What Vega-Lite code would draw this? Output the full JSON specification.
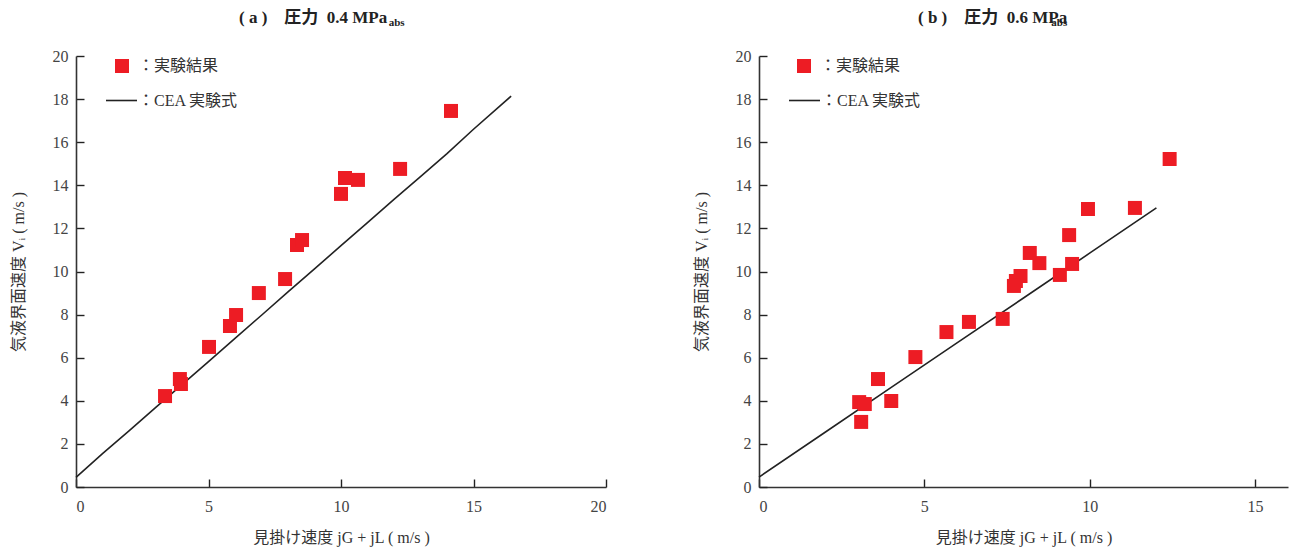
{
  "$schema": "https://vega.github.io/schema/vega-lite/v6.json",
  "background": "white",
  "padding": {"left": 10, "top": 8, "right": 5, "bottom": 5},
  "datasets": {
    "ptsA": [
      {"x": 3.36, "y": 4.22, "series": "：実験結果"},
      {"x": 3.92, "y": 5.01, "series": "：実験結果"},
      {"x": 3.96, "y": 4.78, "series": "：実験結果"},
      {"x": 5.02, "y": 6.5, "series": "：実験結果"},
      {"x": 5.81, "y": 7.47, "series": "：実験結果"},
      {"x": 6.04, "y": 7.98, "series": "：実験結果"},
      {"x": 6.9, "y": 9.0, "series": "：実験結果"},
      {"x": 7.89, "y": 9.65, "series": "：実験結果"},
      {"x": 8.34, "y": 11.23, "series": "：実験結果"},
      {"x": 8.53, "y": 11.46, "series": "：実験結果"},
      {"x": 10.0, "y": 13.6, "series": "：実験結果"},
      {"x": 10.15, "y": 14.34, "series": "：実験結果"},
      {"x": 10.64, "y": 14.25, "series": "：実験結果"},
      {"x": 12.23, "y": 14.76, "series": "：実験結果"},
      {"x": 14.15, "y": 17.45, "series": "：実験結果"}
    ],
    "lineA": [
      {"x": 0, "y": 0.45, "series": "：CEA 実験式"},
      {"x": 1, "y": 1.55, "series": "：CEA 実験式"},
      {"x": 2, "y": 2.6, "series": "：CEA 実験式"},
      {"x": 3, "y": 3.68, "series": "：CEA 実験式"},
      {"x": 4, "y": 4.75, "series": "：CEA 実験式"},
      {"x": 5, "y": 5.82, "series": "：CEA 実験式"},
      {"x": 6, "y": 6.9, "series": "：CEA 実験式"},
      {"x": 7, "y": 7.97, "series": "：CEA 実験式"},
      {"x": 8, "y": 9.05, "series": "：CEA 実験式"},
      {"x": 9, "y": 10.12, "series": "：CEA 実験式"},
      {"x": 10, "y": 11.2, "series": "：CEA 実験式"},
      {"x": 11, "y": 12.27, "series": "：CEA 実験式"},
      {"x": 12, "y": 13.35, "series": "：CEA 実験式"},
      {"x": 13, "y": 14.4, "series": "：CEA 実験式"},
      {"x": 14, "y": 15.47, "series": "：CEA 実験式"},
      {"x": 15, "y": 16.6, "series": "：CEA 実験式"},
      {"x": 16.42, "y": 18.14, "series": "：CEA 実験式"}
    ],
    "ptsB": [
      {"x": 12.42, "y": 15.22, "series": "：実験結果"},
      {"x": 9.95, "y": 12.9, "series": "：実験結果"},
      {"x": 11.37, "y": 12.95, "series": "：実験結果"},
      {"x": 9.38, "y": 11.69, "series": "：実験結果"},
      {"x": 8.19, "y": 10.86, "series": "：実験結果"},
      {"x": 8.48, "y": 10.39, "series": "：実験結果"},
      {"x": 9.47, "y": 10.35, "series": "：実験結果"},
      {"x": 9.1, "y": 9.84, "series": "：実験結果"},
      {"x": 7.91, "y": 9.79, "series": "：実験結果"},
      {"x": 7.77, "y": 9.56, "series": "：実験結果"},
      {"x": 7.71, "y": 9.33, "series": "：実験結果"},
      {"x": 7.37, "y": 7.8, "series": "：実験結果"},
      {"x": 6.35, "y": 7.66, "series": "：実験結果"},
      {"x": 5.67, "y": 7.19, "series": "：実験結果"},
      {"x": 4.73, "y": 6.03, "series": "：実験結果"},
      {"x": 3.6, "y": 5.01, "series": "：実験結果"},
      {"x": 4.0, "y": 3.99, "series": "：実験結果"},
      {"x": 3.03, "y": 3.94, "series": "：実験結果"},
      {"x": 3.2, "y": 3.85, "series": "：実験結果"},
      {"x": 3.09, "y": 3.02, "series": "：実験結果"}
    ],
    "lineB": [
      {"x": 0, "y": 0.46, "series": "：CEA 実験式"},
      {"x": 2, "y": 2.54, "series": "：CEA 実験式"},
      {"x": 4, "y": 4.62, "series": "：CEA 実験式"},
      {"x": 6, "y": 6.7, "series": "：CEA 実験式"},
      {"x": 8, "y": 8.77, "series": "：CEA 実験式"},
      {"x": 10, "y": 10.85, "series": "：CEA 実験式"},
      {"x": 12.02, "y": 12.95, "series": "：CEA 実験式"}
    ],
    "sub": [{"t": "abs"}]
  },
  "config": {
    "view": {"stroke": null},
    "font": "Liberation Serif, Noto Sans CJK JP",
    "axis": {
      "grid": false,
      "ticks": true,
      "tickSize": -8,
      "tickColor": "#222222",
      "tickWidth": 1.4,
      "tickOpacity": 1,
      "domainColor": "#333333",
      "domainWidth": 1.6,
      "labelFont": "Liberation Serif",
      "labelFontSize": 16,
      "labelColor": "#444444",
      "titleFont": "Liberation Serif, Noto Sans CJK JP",
      "titleFontSize": 16,
      "titleFontWeight": "normal",
      "titleColor": "#333333"
    },
    "axisX": {"labelPadding": 19, "titlePadding": 15},
    "axisY": {"labelPadding": 16, "titlePadding": 26},
    "title": {
      "font": "Liberation Serif, Noto Sans CJK JP",
      "fontSize": 17,
      "fontWeight": "bold",
      "anchor": "start",
      "frame": "group",
      "color": "#222222",
      "offset": -10
    },
    "legend": {
      "title": null,
      "orient": "none",
      "padding": 0,
      "labelFont": "Liberation Serif, Noto Sans CJK JP",
      "labelFontSize": 16,
      "labelColor": "#333333"
    }
  },
  "spacing": 86,
  "resolve": {
    "scale": {"shape": "independent", "color": "independent", "x": "independent", "y": "independent"},
    "legend": {"shape": "independent", "color": "independent"}
  },
  "hconcat": [
    {
      "width": 530,
      "height": 431,
      "title": {"text": "( a )　圧力\u00a0 0.4 MPa", "dx": 163},
      "layer": [
        {
          "data": {"name": "lineA"},
          "mark": {"type": "line", "strokeWidth": 1.6},
          "encoding": {
            "x": {"field": "x", "type": "quantitative", "scale": {"domain": [0, 20]}, "axis": {"values": [0, 5, 10, 15, 20], "title": "見掛け速度 jG + jL ( m/s )"}},
            "y": {"field": "y", "type": "quantitative", "scale": {"domain": [0, 20]}, "axis": {"values": [0, 2, 4, 6, 8, 10, 12, 14, 16, 18, 20], "title": "気液界面速度  Vᵢ ( m/s )"}},
            "color": {
              "field": "series", "type": "nominal",
              "scale": {"domain": ["：CEA 実験式"], "range": ["#222222"]},
              "legend": {"legendX": 29, "legendY": 28, "symbolSize": 961, "symbolStrokeWidth": 1.6, "labelOffset": 0}
            }
          }
        },
        {
          "data": {"name": "ptsA"},
          "mark": {"type": "point", "filled": true, "size": 196, "opacity": 1, "color": "#ed1c24"},
          "encoding": {
            "x": {"field": "x", "type": "quantitative"},
            "y": {"field": "y", "type": "quantitative"},
            "shape": {
              "field": "series", "type": "nominal",
              "scale": {"domain": ["：実験結果"], "range": ["square"]},
              "legend": {"legendX": 38, "legendY": 2, "symbolSize": 196, "symbolFillColor": "#ed1c24", "symbolStrokeColor": "#ed1c24", "symbolOpacity": 1, "labelOffset": 8}
            }
          }
        },
        {
          "data": {"name": "sub"},
          "mark": {"type": "text", "align": "left", "baseline": "top", "fontSize": 11, "fontWeight": "bold", "font": "Liberation Serif", "color": "#222222"},
          "encoding": {
            "x": {"datum": 11.8},
            "y": {"datum": 21.81},
            "text": {"field": "t"}
          }
        }
      ]
    },
    {
      "width": 529,
      "height": 431,
      "title": {"text": "( b )　圧力\u00a0 0.6 MPa", "dx": 159},
      "layer": [
        {
          "data": {"name": "lineB"},
          "mark": {"type": "line", "strokeWidth": 1.6},
          "encoding": {
            "x": {"field": "x", "type": "quantitative", "scale": {"domain": [0, 15]}, "axis": {"values": [0, 5, 10, 15], "title": "見掛け速度 jG + jL ( m/s )"}},
            "y": {"field": "y", "type": "quantitative", "scale": {"domain": [0, 20]}, "axis": {"values": [0, 2, 4, 6, 8, 10, 12, 14, 16, 18, 20], "title": "気液界面速度  Vᵢ ( m/s )"}},
            "color": {
              "field": "series", "type": "nominal",
              "scale": {"domain": ["：CEA 実験式"], "range": ["#222222"]},
              "legend": {"legendX": 29, "legendY": 28, "symbolSize": 961, "symbolStrokeWidth": 1.6, "labelOffset": 0}
            }
          }
        },
        {
          "data": {"name": "ptsB"},
          "mark": {"type": "point", "filled": true, "size": 196, "opacity": 1, "color": "#ed1c24"},
          "encoding": {
            "x": {"field": "x", "type": "quantitative"},
            "y": {"field": "y", "type": "quantitative"},
            "shape": {
              "field": "series", "type": "nominal",
              "scale": {"domain": ["：実験結果"], "range": ["square"]},
              "legend": {"legendX": 37, "legendY": 2, "symbolSize": 196, "symbolFillColor": "#ed1c24", "symbolStrokeColor": "#ed1c24", "symbolOpacity": 1, "labelOffset": 8}
            }
          }
        },
        {
          "data": {"name": "sub"},
          "mark": {"type": "text", "align": "left", "baseline": "top", "fontSize": 11, "fontWeight": "bold", "font": "Liberation Serif", "color": "#222222"},
          "encoding": {
            "x": {"datum": 8.84},
            "y": {"datum": 21.81},
            "text": {"field": "t"}
          }
        }
      ]
    }
  ]
}
